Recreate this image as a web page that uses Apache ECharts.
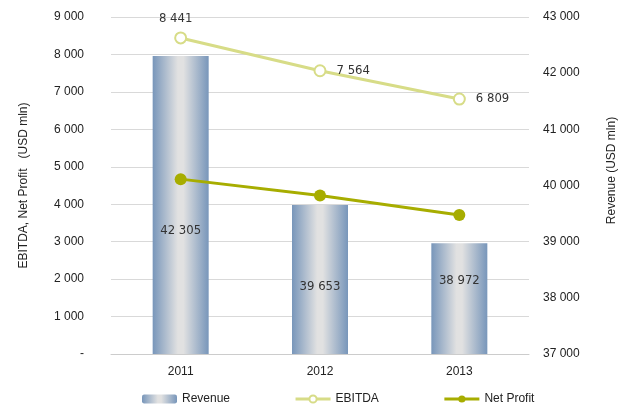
<!DOCTYPE html>
<html>
<head>
<meta charset="utf-8">
<script src="https://cdn.jsdelivr.net/npm/echarts@6/dist/echarts.min.js"></script>
<style>
  html, body { margin: 0; padding: 0; background: #fff; }
  #main { width: 638px; height: 414px; }
</style>
</head>
<body>
<div id="main"></div>
<script>
// data
const years = ['2011', '2012', '2013']
const revenue = [42305, 39653, 38972]
const ebitda = [8441, 7564, 6809]
const netProfit = [4670, 4230, 3710]

// label tweaks so the numbers sit where the original has them
const revenueLabelOffset = [[0, 26], [0, 7], [0, -18]]

// 9 000 style, zero shown as a dash
function fmt (v) {
  if (v === 0) return '-'
  return String(v).replace(/\B(?=(\d{3})+(?!\d))/g, ' ')
}

const myChart = echarts.init(document.getElementById('main'))

const barColor = new echarts.graphic.LinearGradient(0, 0, 1, 0, [
  { offset: 0, color: '#7896ba' },
  { offset: 0.45, color: '#e1e1e1' },
  { offset: 0.55, color: '#e1e1e1' },
  { offset: 1, color: '#7896ba' }
])

const valueLabel = {
  fontFamily: '"DejaVu Sans Condensed", "Liberation Sans Narrow", "Liberation Sans", sans-serif',
  fontSize: 13,
  color: '#333'
}

const axisFont = { fontFamily: 'Liberation Sans', fontSize: 12, color: '#222' }

const option = {
  animation: false,
  grid: { left: 111, right: 109, top: 17, bottom: 60 },
  legend: {
    bottom: 4,
    left: 137,
    itemWidth: 35,
    itemHeight: 9,
    itemGap: 64,
    textStyle: axisFont,
    data: [
      { name: 'Revenue' },
      { name: 'EBITDA', lineStyle: { width: 3 } },
      { name: 'Net Profit', lineStyle: { width: 3 } }
    ]
  },
  xAxis: {
    type: 'category',
    data: years,
    axisTick: { show: false },
    axisLine: { lineStyle: { color: '#cccccc' } },
    axisLabel: { margin: 12, ...axisFont }
  },
  yAxis: [
    {
      type: 'value',
      min: 0,
      max: 9000,
      interval: 1000,
      name: 'EBITDA, Net Profit   (USD mln)',
      nameLocation: 'middle',
      nameGap: 81,
      nameTextStyle: axisFont,
      axisLine: { show: false },
      axisTick: { show: false },
      splitLine: { lineStyle: { color: '#d9d9d9' } },
      axisLabel: { margin: 27, formatter: fmt, ...axisFont }
    },
    {
      type: 'value',
      min: 37000,
      max: 43000,
      interval: 1000,
      name: 'Revenue (USD mln)',
      nameLocation: 'middle',
      nameGap: 77,
      nameTextStyle: { ...axisFont, padding: [0, 0, 0, 30] },
      axisLine: { show: false },
      axisTick: { show: false },
      splitLine: { show: false },
      axisLabel: { margin: 14, formatter: fmt, ...axisFont }
    }
  ],
  series: [
    {
      name: 'Revenue',
      type: 'bar',
      yAxisIndex: 1,
      barWidth: 56,
      itemStyle: { color: barColor },
      data: revenue.map((v, i) => ({
        value: v,
        label: { show: true, position: 'inside', offset: revenueLabelOffset[i], formatter: fmt(v), ...valueLabel }
      }))
    },
    {
      name: 'EBITDA',
      type: 'line',
      yAxisIndex: 0,
      symbol: 'emptyCircle',
      symbolSize: 11,
      color: '#d7dc87',
      lineStyle: { width: 3, color: '#d7dc87' },
      itemStyle: { color: '#d7dc87', borderWidth: 1.5 },
      data: ebitda.map((v, i) => ({
        value: v,
        label: i === 0
          ? { show: true, position: 'top', distance: 6, offset: [-5, 0], formatter: fmt(v), ...valueLabel }
          : { show: true, position: 'right', distance: 10, formatter: fmt(v), ...valueLabel }
      }))
    },
    {
      name: 'Net Profit',
      type: 'line',
      yAxisIndex: 0,
      symbol: 'circle',
      symbolSize: 12,
      color: '#a7ad00',
      lineStyle: { width: 3, color: '#a7ad00' },
      itemStyle: { color: '#a7ad00' },
      data: netProfit
    }
  ]
}

myChart.setOption(option)
</script>
</body>
</html>
